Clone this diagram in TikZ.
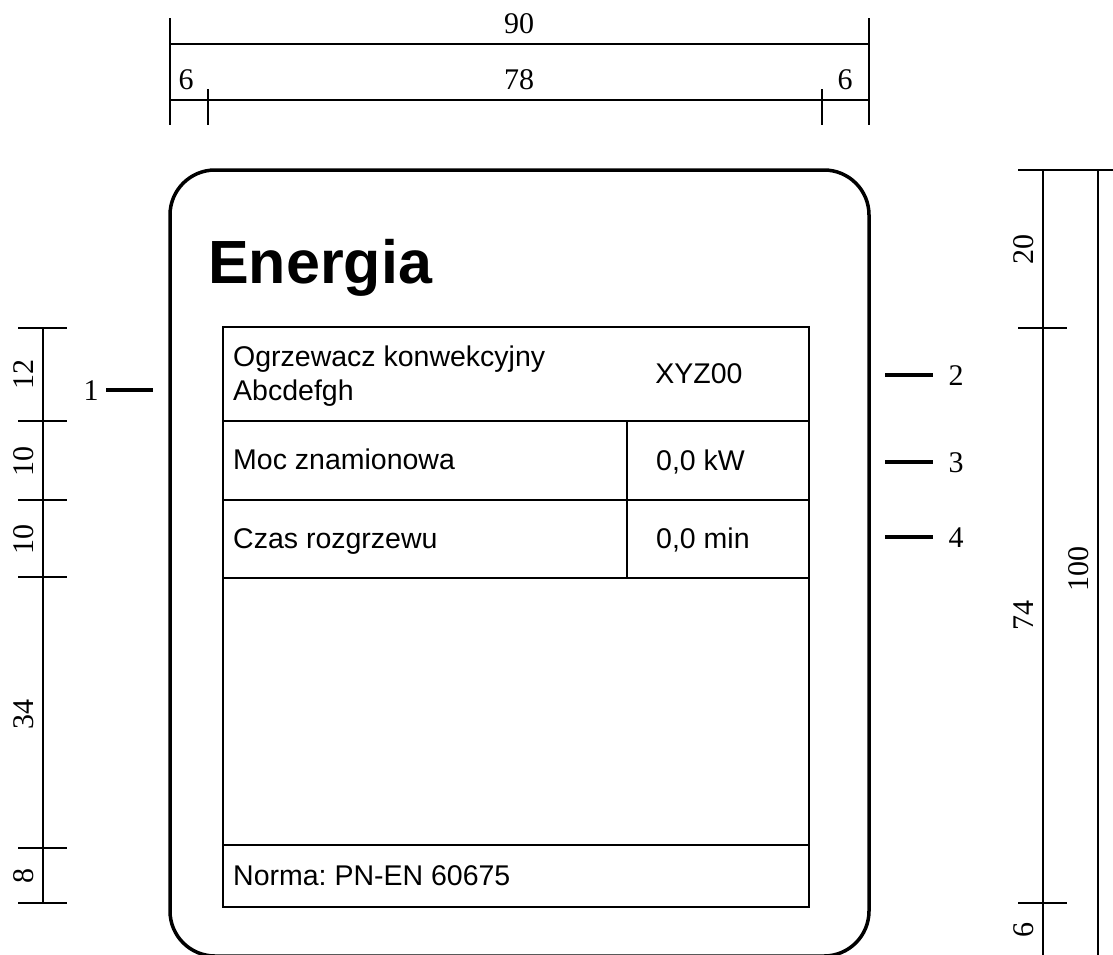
\documentclass[tikz,border=0pt]{standalone}
\usepackage{fontspec}
\setmainfont{Liberation Serif}
\newfontfamily\sansf{Liberation Sans}
\frenchspacing
\begin{document}
\begin{tikzpicture}[x=1pt,y=-1pt,
  dimline/.style={line width=1.3pt},
  dimtext/.style={font=\fontsize{30}{33}\selectfont, inner sep=0pt},
  frame/.style={line width=3.5pt, rounded corners=45pt},
  grid/.style={line width=1.8pt},
  celltext/.style={font=\sansf\fontsize{28.5}{31}\selectfont, inner sep=0pt, anchor=base west},
  marker/.style={line width=3.5pt},
  ]
\useasboundingbox (0,0) rectangle (1113,954);

% ---------- top dimensions ----------
\draw[dimline] (170,18) -- (170,125);
\draw[dimline] (869,18) -- (869,125);
\draw[dimline] (170,44) -- (869,44);
\draw[dimline] (170,100) -- (869,100);
\draw[dimline] (208,89) -- (208,125);
\draw[dimline] (822,89) -- (822,125);
\node[dimtext, anchor=base] (d90) at (519,33) {90};
\node[dimtext, anchor=base] (d78) at (519,89) {78};
\node[dimtext, anchor=base] (d6a) at (186,89) {6};
\node[dimtext, anchor=base] (d6b) at (845,89) {6};

% ---------- left dimensions ----------
\draw[dimline] (43,327) -- (43,903);
\foreach \yy in {328,421,500,577,848,903}
  \draw[dimline] (18,\yy) -- (67,\yy);
\node[dimtext, rotate=90, anchor=base] (l12) at (33,374) {12};
\node[dimtext, rotate=90, anchor=base] (l10a) at (33,461) {10};
\node[dimtext, rotate=90, anchor=base] (l10b) at (33,539) {10};
\node[dimtext, rotate=90, anchor=base] (l34) at (33,714) {34};
\node[dimtext, rotate=90, anchor=base] (l8) at (33,876) {8};

% ---------- right dimensions ----------
\draw[dimline] (1043,170) -- (1043,960);
\draw[dimline] (1098,170) -- (1098,960);
\draw[dimline] (1018,170) -- (1113,170);
\draw[dimline] (1018,328) -- (1067,328);
\draw[dimline] (1018,903) -- (1067,903);
\node[dimtext, rotate=90, anchor=base] (r20) at (1033,249) {20};
\node[dimtext, rotate=90, anchor=base] (r74) at (1033,615) {74};
\node[dimtext, rotate=90, anchor=base] (r6) at (1033,930) {6};
\node[dimtext, rotate=90, anchor=base] (r100) at (1088,569) {100};

% ---------- plate ----------
\draw[frame] (170,170) rectangle (869,956);
\node[font=\sansf\bfseries\fontsize{61}{66}\selectfont, anchor=base west, inner sep=0pt] (title) at (208,283) {Energia};

% table
\draw[grid] (223,327) rectangle (809,907);
\draw[grid] (223,421) -- (809,421);
\draw[grid] (223,500) -- (809,500);
\draw[grid] (223,578) -- (809,578);
\draw[grid] (223,845) -- (809,845);
\draw[grid] (627,421) -- (627,578);

\node[celltext] (t1a) at (233,366) {Ogrzewacz konwekcyjny};
\node[celltext] (t1b) at (233,400) {Abcdefgh};
\node[celltext, anchor=base] (t2) at (699,383) {XYZ00};
\node[celltext] (t3) at (233,469) {Moc znamionowa};
\node[celltext] (t4) at (656,470) {0,0 kW};
\node[celltext] (t5) at (233,548) {Czas rozgrzewu};
\node[celltext] (t6) at (656,548) {0,0 min};
\node[celltext] (t7) at (233,885) {Norma: PN-EN 60675};

% ---------- markers ----------
\node[dimtext, anchor=base] (m1) at (91,400) {1};
\coordinate (m1e) at (153,390);
\draw[marker] (106,390) -- (m1e);
\node[dimtext, anchor=base] (m2) at (956,385) {2};
\node[dimtext, anchor=base] (m3) at (956,472) {3};
\node[dimtext, anchor=base] (m4) at (956,547) {4};
\coordinate (m2s) at (885,375);
\coordinate (m3s) at (885,462);
\coordinate (m4s) at (885,537);
\draw[marker] (m2s) -- ++(48,0);
\draw[marker] (m3s) -- ++(48,0);
\draw[marker] (m4s) -- ++(48,0);
\end{tikzpicture}
\end{document}
